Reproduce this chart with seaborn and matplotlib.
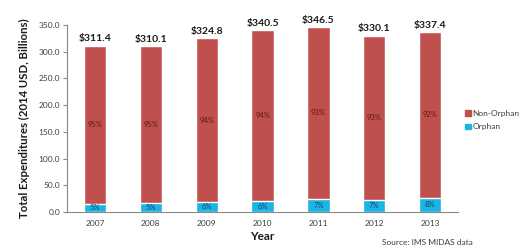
import matplotlib
matplotlib.use('Agg')
import matplotlib.pyplot as plt
import seaborn as sns
import pandas as pd
from matplotlib.patches import Patch

years = ['2007', '2008', '2009', '2010', '2011', '2012', '2013']
totals = [311.4, 310.1, 324.8, 340.5, 346.5, 330.1, 337.4]
orphan = [15.6, 16.5, 19.5, 20.4, 24.3, 23.1, 27.0]
pct_non = ['95%', '95%', '94%', '94%', '93%', '93%', '92%']
pct_orph = ['5%', '5%', '6%', '6%', '7%', '7%', '8%']
yticks = [0, 50, 100, 150, 200, 250, 300, 350]

red = '#C0504D'
blue = '#1CB3E6'
txt = '#404040'

sns.set_style('white')
plt.rcParams['font.family'] = ['Lato', 'DejaVu Sans']

df = pd.DataFrame({'year': years, 'total': totals, 'orphan': orphan})

fig = plt.figure(figsize=(5.2, 2.5), dpi=100)
ax = fig.add_axes([0.129, 0.152, 0.752, 0.748])

sns.barplot(data=df, x='year', y='total', color=red, width=0.4, saturation=1, ax=ax)
sns.barplot(data=df, x='year', y='orphan', color=blue, width=0.4, saturation=1, ax=ax)

for i, (t, o) in enumerate(zip(totals, orphan)):
    ax.text(i, t + 4, f'${t:.1f}', ha='center', va='bottom', fontsize=7.5, fontweight='bold', color='#1a1a1a')
    ax.text(i, (t + o) / 2, pct_non[i], ha='center', va='center', fontsize=5.5, color='#5a1a18')
    ax.text(i, o / 2, pct_orph[i], ha='center', va='center', fontsize=5.5, color='#0d4a66')

ax.set_ylim(0, 350)
ax.set_xlim(-0.5, 6.5)
ax.set_yticks(yticks)
ax.set_yticklabels([f'{v:.1f}' for v in yticks], fontsize=6, color=txt)
ax.tick_params(axis='x', labelsize=6, colors=txt, length=0, pad=6)
ax.set_xticks([i - 0.5 for i in range(len(years) + 1)], minor=True)
ax.tick_params(axis='x', which='minor', length=3, color='#888888')
ax.tick_params(axis='y', length=3, color='#888888', left=True, pad=2)
for s in ['top', 'right']:
    ax.spines[s].set_visible(False)
for s in ['left', 'bottom']:
    ax.spines[s].set_color('#888888')
    ax.spines[s].set_linewidth(0.8)

ax.set_xlabel('Year', fontsize=8.5, fontweight='bold', color='#1a1a1a', labelpad=3)
ax.set_ylabel('Total Expenditures (2014 USD, Billions)', fontsize=8.2, fontweight='bold', color='#1a1a1a', labelpad=6)

handles = [Patch(color=red, label='Non-Orphan'), Patch(color=blue, label='Orphan')]
fig.legend(handles=handles, loc='center left', bbox_to_anchor=(0.88, 0.52), frameon=False,
           fontsize=6, handlelength=0.7, handleheight=0.7, handletextpad=0.2, labelspacing=0.8,
           labelcolor=txt)

fig.text(0.735, 0.02, 'Source: IMS MIDAS data', fontsize=6, color=txt)

fig.savefig('out.png', dpi=100)
